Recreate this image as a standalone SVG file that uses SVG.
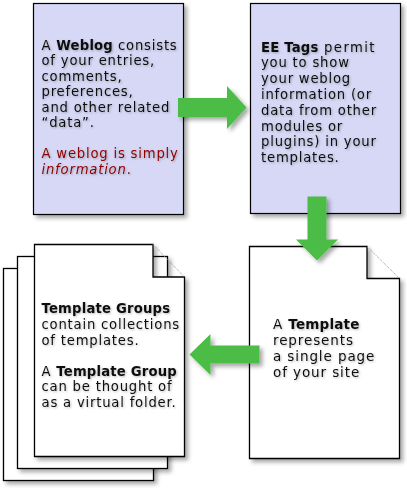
<svg xmlns="http://www.w3.org/2000/svg" width="407" height="488" viewBox="0 0 407 488">
<defs>
<filter id="sh" x="-10%" y="-10%" width="130%" height="130%">
<feDropShadow dx="3" dy="3" stdDeviation="2" flood-color="#000" flood-opacity="0.35"/>
</filter>
<filter id="tsh" x="-5%" y="-20%" width="115%" height="150%">
<feDropShadow dx="1" dy="1" stdDeviation="0.8" flood-color="#000" flood-opacity="0.28"/>
</filter>
</defs>
<style>
.box{fill:#d6d8f5;stroke:#000;stroke-width:1.2}
.page{fill:#fff;stroke:#000;stroke-width:1.3}
.fold{fill:none;stroke:#999;stroke-width:1;stroke-dasharray:1 1}
.t{font-family:"DejaVu Sans",Verdana,sans-serif;font-size:13.2px;letter-spacing:0.8px;fill:#111}
.tl{font-size:13.5px;letter-spacing:0.9px}
.b{font-weight:bold;letter-spacing:0.2px}
.red{fill:#8e0000}
.arrow{fill:#4cbd47}
</style>
<rect width="407" height="488" fill="#fff"/>
<g id="weblog">
<rect class="box" x="33.5" y="3.5" width="150" height="211" filter="url(#sh)"/>
<text class="t" filter="url(#tsh)">
<tspan x="41.5" y="49.5">A <tspan class="b">Weblog</tspan> consists</tspan>
<tspan x="41.5" y="65">of your entries,</tspan>
<tspan x="41.5" y="80.5">comments,</tspan>
<tspan x="41.5" y="96">preferences,</tspan>
<tspan x="41.5" y="111.5">and other related</tspan>
<tspan x="41.5" y="127">“data”.</tspan>
<tspan x="41.5" y="158" class="red">A weblog is simply</tspan>
<tspan x="41.5" y="173.5" class="red"><tspan font-style="italic">information</tspan>.</tspan>
</text>
</g>
<g id="eetags">
<rect class="box" x="250.5" y="3.5" width="150" height="210" filter="url(#sh)"/>
<text class="t" filter="url(#tsh)">
<tspan x="261" y="51.5"><tspan class="b" letter-spacing="0.9">EE Tags</tspan><tspan letter-spacing="1.4"> permit</tspan></tspan>
<tspan x="261" y="67.3">you to show</tspan>
<tspan x="261" y="83.1">your weblog</tspan>
<tspan x="261" y="98.9">information (or</tspan>
<tspan x="261" y="114.7">data from other</tspan>
<tspan x="261" y="130.5">modules or</tspan>
<tspan x="261" y="146.3">plugins) in your</tspan>
<tspan x="261" y="162.1">templates.</tspan>
</text>
</g>
<g id="template">
<path class="page" d="M367,246.5 H249.5 V458.5 H399.5 V278.5 H367 Z" filter="url(#sh)"/>
<path class="fold" d="M367,246.5 L399.5,278.5"/>
<text class="t tl" filter="url(#tsh)">
<tspan x="273" y="329.3">A <tspan class="b">Template</tspan></tspan>
<tspan x="273" y="345.3">represents</tspan>
<tspan x="273" y="361.3">a single page</tspan>
<tspan x="273" y="377.3">of your site</tspan>
</text>
</g>
<g id="template-groups">
<rect class="page" x="3.5" y="268.5" width="150" height="212" filter="url(#sh)"/>
<rect class="page" x="17.5" y="256.5" width="150" height="212" filter="url(#sh)"/>
<path class="page" d="M153,244.5 H34.5 V456.5 H184.5 V277 H153 Z" filter="url(#sh)"/>
<path class="fold" d="M153,244.5 L184.5,277"/>
<text class="t" filter="url(#tsh)">
<tspan x="41.5" y="313.3"><tspan class="b">Template Groups</tspan></tspan>
<tspan x="41.5" y="328.9">contain collections</tspan>
<tspan x="41.5" y="344.5">of templates.</tspan>
<tspan x="41.5" y="375.7">A <tspan class="b">Template Group</tspan></tspan>
<tspan x="41.5" y="391.3">can be thought of</tspan>
<tspan x="41.5" y="406.9">as a virtual folder.</tspan>
</text>
</g>
<g id="connectors" filter="url(#sh)">
<polygon class="arrow" points="178,98 227,98 227,86 246.5,107.5 227,129 227,117 178,117"/>
<polygon class="arrow" points="307.5,196.5 326.5,196.5 326.5,239.5 338,239.5 317,260.5 296,239.5 307.5,239.5"/>
<polygon class="arrow" points="259.5,345.5 210.5,345.5 210.5,334 189.5,354.5 210.5,375 210.5,363.5 259.5,363.5"/>
</g>
</svg>
